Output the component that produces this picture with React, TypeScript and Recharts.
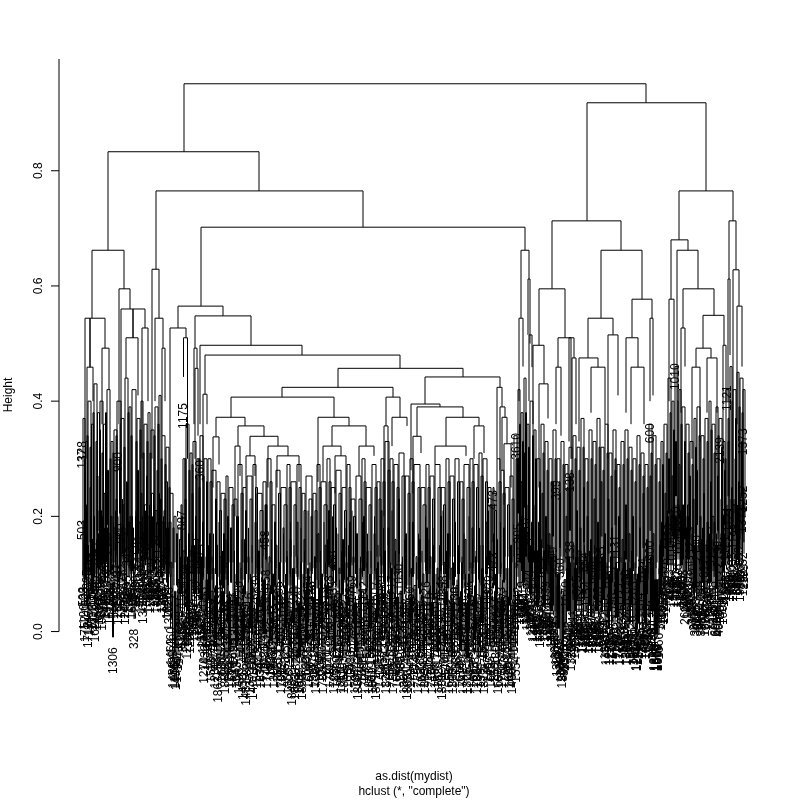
import React from "react";
import { ComposedChart, Line, Scatter, XAxis, YAxis } from "recharts";

// upper tree: [left x, right x, merge height, left child height, right child height]
const upperMerges: number[][] = [
  [184,646,.951,.833,.918],[108,259,.833,.662,.765],[587,706,.918,.713,.765],[679,733,.765,.68,.713],[92,124,.662,.544,.595],
  [156,363,.765,.629,.702],[152,159,.629,.30,.544],[201,525,.702,.565,.662],[178,223,.565,.527,.548],
  [170,186,.527,.24,.51],[183.5,187.5,.51,.442,.30],[195,251,.548,.492,.497],[194,197,.492,.36,.457],
  [195,198,.457,.30,.34],[200,302,.497,.36,.48],[205,400,.48,.412,.457],[203,207,.412,.26,.36],
  [338,463,.457,.424,.442],[282,393,.424,.407,.407],[231,334,.407,.372,.372],[216,245,.372,.338,.357],
  [213,219,.338,.25,.29],[238,264,.357,.322,.339],[235,240,.322,.20,.27],[250,278,.339,.305,.322],
  [246,255,.305,.25,.27],[268,288,.322,.25,.305],[277,299,.305,.25,.26],[318,349,.372,.26,.357],
  [332,366,.357,.322,.322],[323,341,.322,.26,.305],[335,346,.305,.24,.25],[359,374,.322,.27,.305],
  [386,400,.407,.357,.372],[384,388,.357,.2,.15],[392,407,.372,.322,.357],[425,500,.442,.395,.424],
  [411,440,.395,.28,.39],[417,463,.39,.339,.372],[413,421,.339,.24,.31],[446,479,.372,.322,.357],
  [435,466,.322,.29,.305],[474,484,.357,.30,.31],[497,502,.424,.30,.39],[500,505,.39,.28,.372],
  [502,507,.372,.28,.326],[504,511,.326,.22,.25],[521,529,.662,.544,.612],[519,523,.544,.40,.46],
  [528,530,.612,.515,.50],[529,532,.515,.40,.459],[552,621,.713,.595,.662],[539,565,.595,.497,.510],
  [533,544,.497,.36,.43],[539,548,.43,.25,.37],[558,574,.51,.459,.475],[556,561,.459,.36,.34],
  [572,576,.475,.3,.36],[569,571,.51,.33,.3],[601,642,.662,.544,.577],[588,613,.544,.475,.515],
  [579,598,.475,.33,.459],[591,605,.459,.38,.36],[608,618,.515,.30,.41],[632,652,.577,.51,.544],
  [626,638,.51,.38,.459],[631,644,.459,.36,.36],[650,653,.544,.40,.41],[671,688,.68,.577,.662],
  [669,674,.577,.40,.44],[677,698,.662,.40,.595],[683,714,.595,.527,.549],[681,685,.527,.38,.46],
  [703,724,.549,.492,.497],[696,711,.492,.459,.475],[692,700,.459,.30,.33],[707,717,.475,.38,.38],
  [723,726,.497,.30,.40],[729,736,.713,.612,.628],[728,730,.612,.40,.48],[733,739,.628,.40,.565],
  [737,742,.565,.36,.46],[90,105,.544,.459,.492],[85,90,.544,.33,.459],[87,93,.459,.30,.40],
  [102,109,.492,.36,.42],[119,130,.595,.36,.56],[121,133,.56,.36,.51],[133,145,.56,.51,.527],
  [126,138,.51,.44,.41],[142,148,.527,.3,.40],[155,163,.544,.40,.492],[162,165,.492,.34,.40],
];

// middle brackets: [x, span, merge height, height the stems reach]
const middleBrackets: number[][] = [
  [83,2,.37,.1],[85.5,2,.33,.12],[88,3,.40,.12],[91.5,2,.36,.13],[94,3,.43,.14],[97.5,2,.38,.11],[100,3,.40,.14],[103.5,3,.36,.12],
  [107,3,.42,.15],[111,2,.33,.1],[114,3,.35,.14],[117,4,.40,.13],[121,3,.37,.12],[125,3,.44,.14],[129,2,.39,.11],[132,4,.42,.15],
  [137,3,.37,.13],[141,2,.40,.14],[144,3,.36,.12],[148,2,.38,.14],[151,3,.35,.12],[155,3,.39,.15],[159,2,.41,.13],[162,3,.34,.12],
  [166,3,.32,.13],[170,3,.24,.11],[174,2,.2,.12],[178,3,.18,.1],[183,2,.3,.1],[186,3,.36,.12],[190,2,.31,.13],[193,3,.33,.11],
  [197,2,.3,.12],[200,3,.34,.1],[204,3,.3,.11],[208,3,.3,.12],[212,4,.28,.1],[217,3,.26,.13],[221,4,.24,.1],[226,2,.27,.11],
  [229,4,.25,.12],[234,3,.23,.1],[238,4,.29,.11],[243,3,.25,.12],[247,5,.27,.12],[253,3,.29,.1],[257,5,.24,.11],[263,3,.26,.13],
  [267,4,.30,.12],[272,3,.22,.1],[276,4,.28,.11],[281,5,.25,.12],[287,3,.29,.1],[291,5,.26,.13],[297,4,.29,.11],[302,3,.24,.12],
  [306,6,.27,.1],[313,3,.24,.11],[317,3,.29,.12],[321,5,.26,.1],[327,3,.3,.12],[331,4,.25,.11],[336,5,.28,.1],[342,4,.25,.13],
  [347,3,.29,.11],[351,4,.23,.12],[356,5,.27,.1],[362,3,.3,.12],[366,5,.25,.11],[372,4,.29,.1],[377,3,.26,.13],[381,3,.3,.1],
  [385,4,.33,.12],[390,3,.3,.11],[394,4,.29,.1],[399,5,.31,.12],[405,4,.27,.11],[410,3,.3,.1],[414,6,.29,.13],[421,4,.25,.12],
  [426,3,.29,.1],[430,4,.27,.11],[435,5,.29,.12],[441,4,.25,.1],[446,3,.3,.11],[450,4,.27,.13],[455,4,.3,.1],[460,3,.26,.12],
  [464,5,.29,.1],[470,3,.3,.11],[474,4,.29,.12],[479,3,.31,.11],[483,4,.3,.1],[488,3,.25,.12],[492,4,.24,.11],[497,3,.3,.12],
  [501,3,.28,.11],[505,4,.25,.13],[510,3,.27,.12],[514,3,.34,.13],[518,2,.42,.16],[521,2,.38,.15],[524,2,.44,.17],[527,2,.36,.15],
  [530,3,.4,.15],[534,2,.35,.14],[537,3,.3,.13],[541,3,.36,.14],[545,3,.33,.12],[549,3,.3,.13],[553,3,.35,.12],[557,3,.3,.11],
  [561,3,.33,.13],[565,3,.29,.12],[569,3,.32,.1],[573,3,.34,.13],[577,3,.32,.12],[581,3,.37,.11],[585,3,.3,.13],[589,3,.35,.1],
  [593,3,.33,.12],[597,3,.37,.11],[601,3,.32,.13],[605,3,.36,.1],[609,3,.31,.12],[613,3,.35,.11],[617,3,.29,.13],[621,3,.33,.12],
  [625,3,.35,.1],[629,3,.32,.12],[633,3,.3,.11],[637,3,.34,.13],[641,3,.31,.12],[645,3,.29,.1],[649,3,.36,.12],[653,3,.34,.11],
  [657,3,.3,.12],[661,2,.33,.15],[664,3,.36,.17],[668,3,.44,.17],[672,2,.4,.18],[675,3,.46,.18],[679,2,.42,.17],[682,3,.39,.18],
  [686,3,.36,.17],[690,3,.33,.16],[694,2,.37,.17],[697,3,.39,.16],[701,3,.34,.15],[705,3,.37,.16],[709,2,.4,.15],[712,3,.36,.17],
  [716,2,.39,.16],[719,3,.37,.17],[723,2,.33,.16],[726,3,.42,.18],[730,2,.46,.18],[733,3,.42,.19],[737,2,.45,.18],[740,3,.44,.19],[743,2,.42,.2],
];

// second set of brackets between the middle ones: [x, span, merge height, height the stems reach]
const innerBrackets: number[][] = [
  [84.5,1,.3,.09],[87,1,.34,.1],[90,1,.32,.1],[93,1,.38,.11],[96,1,.33,.1],[99.5,1,.35,.11],[102,1,.31,.1],[105.5,1,.38,.12],
  [110,1,.3,.1],[113,1,.31,.12],[116,1,.34,.1],[120,1,.36,.1],[124,1,.32,.11],[128,1,.38,.12],[131,1,.34,.1],[136,1,.33,.12],
  [140,1,.35,.1],[143,1,.31,.11],[147,1,.33,.1],[150,1,.31,.1],[154,1,.34,.12],[158,1,.36,.1],[161,1,.3,.11],[165,1,.29,.1],
  [169,1,.25,.1],[173,1,.18,.08],[176.5,1,.17,.08],[181,1,.22,.08],[185,1,.3,.1],[189,1,.28,.1],[192,1,.29,.1],[196,1,.27,.1],
  [199,1,.3,.1],[203,1,.27,.09],[206.5,1,.26,.1],[210,2,.26,.09],[215.5,1,.23,.1],[219.5,2,.21,.08],[224,2,.23,.09],[227.5,1,.2,.08],
  [232,2,.22,.1],[236.5,1,.2,.08],[241,2,.24,.09],[245.5,1,.21,.1],[250,2,.23,.09],[255.5,2,.25,.08],[260,3,.21,.1],[265,2,.22,.09],
  [270,2,.26,.1],[274.5,1,.19,.08],[278.5,2,.24,.09],[284,3,.22,.1],[289,2,.25,.08],[294,2,.22,.1],[299,2,.25,.09],[304,2,.21,.08],
  [309,3,.23,.1],[315,2,.21,.09],[319,2,.25,.08],[324,3,.22,.1],[329,2,.26,.09],[333.5,2,.22,.08],[339,2,.24,.1],[344.5,2,.21,.09],
  [349,2,.25,.08],[353.5,2,.2,.1],[359,3,.23,.09],[364,2,.26,.08],[369,2,.22,.1],[375,2,.25,.09],[379,2,.23,.08],[383,2,.26,.1],
  [388,2,.28,.09],[392,2,.26,.08],[397,2,.25,.1],[402,3,.27,.09],[408,2,.24,.08],[412,2,.26,.1],[418,2,.25,.09],[423,3,.22,.08],
  [428,2,.25,.1],[432.5,2,.23,.09],[438,3,.25,.08],[443.5,2,.22,.1],[448,2,.26,.09],[452.5,2,.23,.08],[457.5,2,.26,.1],[462,2,.23,.09],
  [467,3,.25,.08],[472,2,.26,.1],[476.5,2,.25,.09],[481,2,.27,.08],[485.5,2,.26,.1],[490,2,.22,.09],[494.5,2,.21,.08],[499,2,.26,.1],
  [503,2,.24,.09],[507.5,2,.22,.08],[512,2,.23,.1],[516,1,.3,.11],[519.5,1,.36,.12],[522.5,1,.33,.12],[525.5,1,.38,.13],[528.5,1,.32,.12],
  [532.5,1,.34,.12],[535.5,1,.3,.11],[539.5,1,.26,.1],[543,1,.31,.11],[547,1,.28,.1],[551,1,.26,.1],[555,1,.3,.1],[559,1,.26,.09],
  [563,1,.29,.1],[567,1,.25,.1],[571,1,.28,.09],[575,1,.3,.1],[579,1,.28,.1],[583,1,.32,.09],[587,1,.26,.1],[591,1,.3,.09],
  [595,1,.29,.1],[599,1,.32,.09],[603,1,.28,.1],[607,1,.31,.09],[611,1,.27,.1],[615,1,.3,.09],[619,1,.25,.1],[623,1,.29,.1],
  [627,1,.3,.09],[631,1,.28,.1],[635,1,.26,.09],[639,1,.29,.1],[643,1,.27,.1],[647,1,.25,.09],[651,1,.31,.1],[655,1,.29,.09],
  [659,1,.26,.1],[662.5,1,.29,.13],[666,1,.31,.15],[670,1,.38,.15],[673.5,1,.35,.16],[677,1,.4,.16],[681,1,.36,.15],[684.5,1,.33,.16],
  [688,1,.31,.15],[692,1,.29,.14],[695.5,1,.32,.15],[699,1,.34,.14],[703,1,.3,.13],[707,1,.33,.14],[711,1,.35,.13],[714,1,.31,.15],
  [718,1,.34,.14],[721.5,1,.32,.15],[725,1,.3,.14],[728,1,.37,.16],[732,1,.4,.16],[735.5,1,.37,.17],[739,1,.39,.16],[742,1,.38,.17],
];

// leaf brackets: [x, span, merge height, left label, right label]
const leafBrackets: (number | string)[][] = [
  [83,1,.19,"503","128"],[84.5,2,.14,"1752"],[86.5,1,.22,"295"],[88,2,.13,"1712"],[90,1,.25,"1148","633"],[91.5,2,.16,"1192"],[93.5,1,.2,"884"],[95,2,.14,"1621"],
  [97,1,.27,"1051"],[98.5,2,.17,"1018","743"],[100.5,1,.21,"2096"],[102,2,.16,"1057"],[104,1,.24,"1334","96"],[105.5,2,.18,"1418"],[107.5,1,.28,"277"],[109,2,.17,"1519"],
  [111,1,.2,"641"],[112.5,1,.085,"1306"],[114,2,.18,"1422"],[116,1,.23,"1101","87"],[117.5,2,.17,"1283"],[119.5,1,.3,"900"],[121,2,.18,"1365"],[123,1,.22,"1476"],
  [124.5,2,.17,"1244"],[126.5,1,.26,"345"],[128,2,.19,"1039"],[130,1,.2,"812"],[131.5,2,.18,"1603","62"],[134,1,.117,"328"],[135.5,2,.2,"1270"],[137.5,1,.28,"1591"],
  [139,2,.19,"914"],[141,1,.24,"1184"],[143,1,.172,"1369"],[144.5,2,.22,"436"],[146.5,1,.27,"1732"],[148,2,.2,"578"],[150,1,.19,"1288"],[151.5,2,.24,"1009"],
  [153.5,1,.2,"1543","218"],[155,2,.21,"1636"],[157,1,.28,"1129"],[158.5,2,.19,"702"],[160.5,1,.23,"1441"],[162,2,.19,"1358"],[164,1,.21,"1077"],[165.5,2,.26,"345"],
  [167.5,1,.18,"1696"],[169,2,.19,"1213"],[171,1,.12,"1460"],[172.5,2,.06,"1488"],[174.5,1,.07,"1463"],[176,2,.057,"1494"],[178,1,.09,"1471"],[179.5,2,.16,"887"],
  [181.5,1,.2,"1527"],[183,2,.14,"1260"],[185,1,.23,"1044"],[186.5,2,.11,"1261"],[188.5,1,.17,"672"],[190,2,.14,"1599"],[192,1,.24,"1311"],[193.5,2,.16,"596"],
  [195.5,1,.2,"1338"],[197,2,.16,"563"],[199,1,.25,"360"],[200.5,2,.15,"1420"],[202.5,1,.19,"1083"],[204,2,.068,"1270"],[206,1,.13,"1605"],[207.5,2,.09,"1172"],
  [209.5,1,.17,"874"],[211,2,.07,"1526"],[213,1,.11,"1741"],[214.5,2,.06,"1234"],[216.5,1,.15,"1339"],[218,2,.035,"1863"],[220,1,.13,"1457"],[221.5,2,.07,"1680"],
  [223.5,1,.17,"1102"],[225,2,.05,"1880"],[227,1,.12,"1397"],[228.5,2,.06,"1764"],[230.5,1,.18,"1641"],[232,2,.06,"1510"],[234,1,.1,"1490"],[235.5,2,.07,"1477"],
  [237.5,1,.14,"1222"],[239,2,.05,"1403"],[241,1,.11,"1482"],[242.5,2,.04,"1458"],[244.5,1,.16,"1205"],[246,2,.03,"1481"],[248,1,.13,"1716"],[249.5,2,.05,"1373"],
  [251.5,1,.09,"1660"],[253,2,.04,"1407"],[255,1,.19,"1258"],[256.5,2,.06,"1592"],[258.5,1,.14,"926"],[260,2,.07,"1344"],[262,1,.17,"1195"],[263.5,2,.09,"1621"],
  [265.5,1,.22,"458"],[267,2,.06,"1749"],[269,1,.13,"1113"],[270.5,2,.08,"1538"],[272.5,1,.1,"1647"],[274,2,.06,"1306"],[276,1,.15,"1272"],[277.5,2,.07,"1561"],
  [279.5,1,.12,"1433"],[281,2,.05,"1709"],[283,1,.18,"1026"],[284.5,2,.08,"1632"],[286.5,1,.13,"1390"],[288,2,.05,"1855"],[290,1,.16,"947"],[291.5,2,.03,"1848"],
  [293.5,1,.11,"1579"],[295,2,.04,"1863"],[297,1,.19,"1220"],[298.5,2,.05,"1888"],[300.5,1,.12,"1468"],[302,2,.04,"1853"],[304,1,.16,"1376"],[305.5,2,.07,"1693"],
  [307.5,1,.11,"1524"],[309,2,.06,"1606"],[311,1,.2,"1135"],[312.5,2,.08,"1470"],[314.5,1,.13,"1687"],[316,2,.05,"1738"],[318,1,.17,"1349"],[319.5,2,.07,"1625"],
  [321.5,1,.1,"1560"],[323,2,.05,"1787"],[325,1,.15,"1247"],[326.5,2,.08,"1671"],[328.5,1,.21,"468"],[330,2,.06,"1731"],[332,1,.13,"1409"],[333.5,2,.05,"1722"],
  [335.5,1,.18,"1298"],[337,2,.07,"1589"],[339,1,.11,"1461"],[340.5,2,.05,"1811"],[342.5,1,.16,"1162"],[344,2,.05,"1852"],[346,1,.12,"1503"],[347.5,2,.06,"1639"],
  [349.5,1,.19,"1058"],[351,2,.08,"1483"],[353,1,.13,"1725"],[354.5,2,.05,"1797"],[356.5,1,.17,"1236"],[358,2,.04,"1889"],[360,1,.11,"1553"],[361.5,2,.07,"1668"],
  [363.5,1,.2,"1142"],[365,2,.05,"1703"],[367,1,.14,"1418"],[368.5,2,.05,"1843"],[370.5,1,.1,"1597"],[372,2,.06,"1619"],[374,1,.17,"1328"],[375.5,2,.04,"1871"],
  [377.5,1,.12,"1504"],[379,2,.06,"1779"],[381,1,.21,"1089"],[382.5,2,.08,"1452"],[384.5,1,.14,"1364"],[386,2,.05,"1820"],[388,1,.18,"1277"],[389.5,2,.07,"1541"],
  [391.5,1,.11,"1611"],[393,2,.05,"1759"],[395,1,.16,"1353"],[396.5,2,.06,"1648"],[398.5,1,.23,"1030"],[400,2,.07,"1585"],[402,1,.12,"1472"],[403.5,2,.05,"1807"],
  [405.5,1,.17,"1218"],[407,2,.04,"1860"],[409,1,.11,"1529"],[410.5,2,.06,"1704"],[412.5,1,.19,"1121"],[414,2,.08,"1439"],[416,1,.13,"1656"],[417.5,2,.05,"1775"],
  [419.5,1,.16,"1290"],[421,2,.06,"1623"],[423,1,.1,"1544"],[424.5,2,.05,"1833"],[426.5,1,.18,"1176"],[428,2,.07,"1508"],[430,1,.13,"1381"],[431.5,2,.05,"1716"],
  [433.5,1,.15,"1264"],[435,2,.06,"1609"],[437,1,.11,"1492"],[438.5,2,.05,"1768"],[440.5,1,.2,"1054"],[442,2,.04,"1881"],[444,1,.12,"1437"],[445.5,2,.07,"1574"],
  [447.5,1,.17,"1312"],[449,2,.05,"1659"],[451,1,.11,"1515"],[452.5,2,.05,"1802"],[454.5,1,.19,"1209"],[456,2,.08,"1389"],[458,1,.14,"1683"],[459.5,2,.06,"1618"],
  [461.5,1,.12,"1548"],[463,2,.05,"1742"],[465,1,.16,"1249"],[466.5,2,.05,"1826"],[468.5,1,.1,"1600"],[470,2,.07,"1454"],[472,1,.18,"1167"],[473.5,2,.06,"1695"],
  [475.5,1,.13,"1429"],[477,2,.05,"1785"],[479,1,.15,"1303"],[480.5,2,.06,"1581"],[482.5,1,.11,"1532"],[484,2,.05,"1813"],[486,1,.19,"1110"],[487.5,2,.07,"1467"],
  [489.5,1,.14,"1377"],[491,2,.06,"1622"],[493,1,.25,"473"],[494.5,2,.07,"1506"],[496.5,1,.16,"1282"],[498,2,.05,"1699"],[500,1,.12,"1445"],[501.5,2,.06,"1752"],
  [503.5,1,.18,"1197"],[505,2,.07,"1563"],[507,1,.11,"1417"],[508.5,2,.06,"1690"],[510.5,1,.15,"1340"],[512,2,.05,"1460"],[514,1,.12,"1486"],[515.5,2,.07,"1554"],
  [517.5,1,.3,"805"],[519,2,.17,"1232"],[521,1,.26,"207"],[522.5,2,.18,"527"],[524.5,1,.31,"3610"],[526,2,.17,"1150"],[528,1,.22,"944"],[529.5,2,.16,"1325"],
  [531.5,1,.19,"1380"],[533,2,.14,"1309"],[535,1,.22,"1447"],[536.5,2,.14,"1388"],[538.5,1,.19,"1015"],[540,2,.13,"1565"],[542,1,.24,"823"],[543.5,2,.14,"1398"],
  [545.5,1,.2,"1099"],[547,2,.15,"1307"],[549,1,.17,"1446"],[550.5,2,.13,"1306"],[552.5,1,.26,"399"],[554,2,.13,"1394"],[556,1,.1,"1305"],[557.5,2,.1,"1098"],
  [559.5,1,.24,"360"],[561,2,.07,"1305"],[562.5,1,.06,"899"],[564,2,.09,"1350"],[566,1,.2,"1070"],[567.5,2,.13,"1412"],[569.5,1,.27,"138"],[571,2,.09,"1325"],
  [573,1,.15,"1241"],[574.5,2,.11,"1327"],[576.5,1,.21,"925"],[578,2,.14,"1399"],[580,1,.18,"1106"],[581.5,2,.12,"1364"],[583.5,1,.25,"684"],[585,2,.13,"1530"],
  [587,1,.2,"1154"],[588.5,2,.12,"1896"],[590.5,1,.16,"1280"],[592,2,.12,"1899"],[594,1,.23,"904"],[595.5,2,.13,"1437"],[597.5,1,.19,"1093"],[599,2,.12,"1893"],
  [601,1,.26,"1285"],[602.5,2,.13,"1352"],[604.5,1,.17,"1200"],[606,2,.1,"1466"],[608,1,.23,"1031"],[609.5,2,.1,"1272"],[611.5,1,.18,"1398"],[613,2,.11,"1729"],
  [615,1,.28,"1131"],[616.5,2,.12,"1547"],[618.5,1,.2,"1177"],[620,2,.1,"1729"],[622,1,.16,"1335"],[623.5,2,.12,"1618"],[625.5,1,.22,"1086"],[627,2,.1,"1361"],
  [629,1,.17,"1269"],[630.5,2,.11,"1594"],[632.5,1,.2,"1203"],[634,2,.1,"1518"],[636,1,.09,"1249"],[637.5,2,.1,"1249"],[639.5,1,.18,"1104"],[641,2,.12,"1655"],
  [643,1,.24,"1034"],[644.5,2,.11,"1427"],[646.5,1,.16,"1226"],[648,2,.12,"1533"],[650,1,.27,"600"],[651.5,2,.13,"1381"],[653,1,.17,"1291"],[654.5,2,.09,"1888"],
  [656.5,1,.09,"1666"],[658,1,.09,"1868"],[659.5,2,.15,"346"],[661.5,1,.19,"1153"],[663,2,.17,"1495"],[665,1,.24,"1076"],[666.5,2,.2,"973"],[668.5,1,.3,"1428"],
  [670,2,.21,"1122"],[672,1,.27,"1010"],[673.5,2,.2,"1310"],[675.5,1,.33,"1010"],[677,2,.22,"1247"],[679,1,.29,"1040"],[680.5,2,.21,"899"],[682.5,1,.22,"608"],
  [684,2,.2,"2607"],[686,1,.18,"260"],[687.5,2,.22,"1308"],[689.5,1,.27,"1112"],[691,2,.18,"309"],[693,1,.23,"3010"],[694.5,2,.15,"3018"],[696.5,1,.28,"2130"],
  [698,2,.15,"302"],[700,1,.2,"1088"],[701.5,2,.16,"3024"],[703.5,1,.24,"1017"],[705,2,.15,"1003"],[707,1,.19,"1219"],[708.5,2,.18,"8"],[710.5,1,.26,"919"],
  [712,2,.2,"808"],[714,1,.19,"1145"],[715.5,2,.15,"6040"],[717.5,1,.27,"2139"],[719,2,.15,"4040"],[721,1,.23,"1133"],[722.5,2,.17,"1008"],[724.5,1,.28,"1121"],
  [726,2,.21,"1160"],[728,1,.33,"1121"],[729.5,2,.21,"1960"],[731.5,1,.25,"1035"],[733,2,.22,"1990"],[735,1,.3,"1198"],[736.5,2,.21,"800"],[738.5,1,.26,"899"],
  [740,2,.24,"800"],[741.5,1,.33,"1373"],[743,1,.25,"1252"],
];

// second row of single leaves: [x, merge height, label]
const lowerLeaves: (number | string)[][] = [
  [84,.16,"1126"],[86,.18,"1052"],[88.5,.15,"1347"],[90.5,.2,"1194"],[92.5,.16,"1015"],[94.5,.19,"1271"],[96.5,.16,"1453"],[98,.21,"1362"],[100,.18,"1067"],[102.5,.2,"1229"],
  [104.5,.18,"1496"],[106.5,.22,"1103"],[108.5,.19,"1378"],[110.5,.2,"1562"],[113.5,.19,"1428"],[115.5,.21,"1144"],[118,.2,"1307"],[120.5,.19,"1583"],[122.5,.23,"1212"],[125,.18,"1476"],
  [127,.21,"1095"],[129,.19,"1334"],[132.5,.2,"1256"],[136,.21,"1539"],[138.5,.23,"1168"],[140.5,.19,"1402"],[142.5,.2,"1289"],[145.5,.21,"1613"],[147.5,.19,"1086"],[149.5,.22,"1345"],
  [152.5,.2,"1527"],[154.5,.22,"1179"],[156.5,.19,"1448"],[159.5,.24,"1063"],[161.5,.19,"1311"],[163.5,.2,"1592"],[166.5,.18,"1228"],[168.5,.16,"1374"],[170.5,.1,"1463"],[173,.08,"1488"],
  [175,.06,"1475"],[177,.07,"1499"],[179,.1,"1430"],[180.5,.13,"1262"],[182.5,.12,"1540"],[184.5,.13,"1160"],[186,.15,"1267"],[187.5,.13,"1509"],[189.5,.12,"1268"],[191.5,.15,"1341"],
  [193,.17,"1084"],[194.5,.15,"1619"],[196.5,.14,"1273"],[198.5,.16,"1397"],[200,.14,"1125"],[201.5,.13,"1556"],[203,.12,"1210"],[205,.09,"1432"],[206.5,.12,"1601"],[208.5,.15,"1145"],
  [210.5,.09,"1379"],[212,.13,"1623"],[213.5,.17,"1258"],[215.5,.08,"1487"],[217.5,.12,"1790"],[219,.19,"1335"],[220.5,.09,"1612"],[222.5,.14,"1702"],[224.5,.08,"1285"],[226,.16,"1576"],
  [228,.11,"1414"],[229.5,.07,"1808"],[231.5,.18,"1163"],[233,.1,"1699"],[234.5,.14,"1352"],[236.5,.06,"1543"],[238.5,.2,"1220"],[240,.12,"1761"],[242,.16,"1408"],[243.5,.08,"1647"],
  [245,.13,"1292"],[247,.07,"1835"],[248.5,.18,"1516"],[250.5,.1,"1728"],[252,.15,"1186"],[254,.08,"1604"],[255.5,.21,"1339"],[257.5,.11,"1840"],[259,.16,"1255"],[261,.06,"1672"],
  [262.5,.13,"1427"],[264.5,.09,"1785"],[266,.19,"1304"],[268,.12,"1621"],[269.5,.07,"1147"],[271.5,.16,"1743"],[273,.1,"1512"],[275,.14,"1866"],[276.5,.08,"1233"],[278.5,.2,"1595"],
  [280,.12,"1388"],[282,.06,"1812"],[283.5,.17,"1176"],[285.5,.1,"1658"],[287,.14,"1441"],[289,.07,"1879"],[290.5,.19,"1266"],[292.5,.11,"1730"],[294,.15,"1503"],[296,.08,"1824"],
  [297.5,.13,"1199"],[299.5,.05,"1687"],[301,.18,"1372"],[303,.1,"1796"],[304.5,.14,"1245"],[306.5,.08,"1609"],[308,.21,"1454"],[310,.12,"1751"],[311.5,.16,"1118"],[313.5,.06,"1838"],
  [315,.11,"1326"],[317,.17,"1664"],[318.5,.09,"1497"],[320.5,.14,"1773"],[322,.07,"1208"],[324,.19,"1815"],[325.5,.12,"1383"],[327.5,.16,"1626"],[329,.08,"1149"],[331,.13,"1712"],
  [332.5,.2,"1435"],[334.5,.06,"1856"],[336,.11,"1271"],[338,.17,"1598"],[339.5,.09,"1469"],[341.5,.14,"1734"],[343,.07,"1193"],[345,.18,"1827"],[346.5,.12,"1346"],[348.5,.15,"1653"],
  [350,.08,"1516"],[352,.21,"1769"],[353.5,.11,"1224"],[355.5,.06,"1844"],[357,.16,"1392"],[359,.09,"1617"],[360.5,.13,"1158"],[362.5,.19,"1721"],[364,.07,"1480"],[366,.12,"1799"],
  [367.5,.17,"1239"],[369.5,.1,"1862"],[371,.14,"1365"],[373,.05,"1640"],[374.5,.2,"1507"],[376.5,.11,"1756"],[378,.15,"1182"],[380,.08,"1819"],[381.5,.13,"1428"],[383.5,.18,"1676"],
  [385,.09,"1293"],[387,.06,"1741"],[388.5,.16,"1534"],[390.5,.12,"1805"],[392,.21,"1217"],[394,.08,"1868"],[395.5,.14,"1359"],[397.5,.1,"1603"],[399,.18,"1475"],[401,.07,"1788"],
  [402.5,.13,"1136"],[404.5,.16,"1694"],[406,.09,"1422"],[408,.05,"1831"],[409.5,.19,"1260"],[411.5,.11,"1628"],[413,.15,"1513"],[415,.07,"1774"],[416.5,.12,"1201"],[418.5,.17,"1847"],
  [420,.09,"1385"],[422,.14,"1651"],[423.5,.06,"1494"],[425.5,.2,"1726"],[427,.11,"1173"],[429,.16,"1810"],[430.5,.08,"1447"],[432.5,.13,"1669"],[434,.18,"1318"],[436,.1,"1792"],
  [437.5,.06,"1526"],[439.5,.15,"1740"],[441,.12,"1256"],[443,.21,"1858"],[444.5,.08,"1401"],[446.5,.14,"1615"],[448,.1,"1188"],[450,.17,"1763"],[451.5,.06,"1489"],[453.5,.12,"1823"],
  [455,.19,"1230"],[457,.09,"1682"],[458.5,.15,"1375"],[460.5,.07,"1749"],[462,.13,"1537"],[464,.17,"1816"],[465.5,.1,"1154"],[467.5,.05,"1707"],[469,.2,"1436"],[471,.12,"1635"],
  [472.5,.16,"1279"],[474.5,.08,"1783"],[476,.14,"1502"],[478,.06,"1869"],[479.5,.18,"1247"],[481.5,.11,"1623"],[483,.15,"1390"],[485,.09,"1758"],[486.5,.13,"1161"],[488.5,.21,"1829"],
  [490,.07,"1455"],[492,.12,"1690"],[493.5,.17,"1322"],[495.5,.1,"1801"],[497,.14,"1518"],[499,.06,"1677"],[500.5,.19,"1203"],[502.5,.09,"1770"],[504,.16,"1424"],[506,.11,"1566"],
  [507.5,.08,"1287"],[509.5,.14,"1495"],[511,.06,"1468"],[513,.1,"1460"],[514.5,.16,"1573"],[516.5,.17,"1306"],[518,.19,"1142"],[520,.17,"1523"],[521.5,.2,"1219"],[523.5,.17,"1396"],
  [525,.18,"1064"],[527,.16,"1338"],[529,.17,"1597"],[530.5,.15,"1226"],[532,.16,"1374"],[534.5,.14,"1415"],[535.5,.17,"1137"],[537.5,.14,"1382"],[539.5,.15,"1520"],[541.5,.16,"1205"],
  [544.5,.14,"1467"],[546,.17,"1108"],[548,.14,"1329"],[550,.15,"1581"],[551.5,.13,"1416"],[553.5,.14,"1253"],[555,.11,"1399"],[557,.08,"1308"],[558.5,.1,"1072"],[560,.08,"1344"],
  [562,.06,"1309"],[563.5,.07,"899"],[565,.09,"1325"],[566.5,.11,"1180"],[568.5,.13,"1406"],[570.5,.12,"1234"],[572,.1,"1328"],[574,.12,"1091"],[575.5,.13,"1355"],[577.5,.15,"1216"],
  [579,.13,"1388"],[581,.14,"1542"],[583,.12,"1169"],[584.5,.15,"1430"],[586,.13,"1278"],[588,.12,"1892"],[589.5,.14,"1047"],[591.5,.12,"1897"],[593,.13,"1323"],[594.5,.15,"1501"],
  [596.5,.13,"1186"],[598.5,.12,"1894"],[600,.14,"1259"],[601.5,.13,"1414"],[603.5,.15,"1072"],[605,.11,"1381"],[607,.12,"1545"],[608.5,.1,"1236"],[610.5,.13,"1467"],[612,.11,"1720"],
  [614,.14,"1155"],[615.5,.12,"1399"],[617.5,.11,"1721"],[619,.1,"1726"],[621,.13,"1282"],[622.5,.11,"1510"],[624.5,.14,"1193"],[626,.1,"1364"],[628,.12,"1437"],[629.5,.11,"1248"],
  [631.5,.14,"1526"],[633,.1,"1317"],[635,.12,"1249"],[636.5,.09,"1240"],[638.5,.11,"1172"],[640,.13,"1453"],[642,.11,"1298"],[643.5,.13,"1614"],[645.5,.11,"1086"],[647,.14,"1372"],
  [649,.12,"1531"],[650.5,.13,"1207"],[652.5,.12,"1488"],[654,.09,"1886"],[655.5,.09,"1666"],[657,.09,"1660"],[659,.11,"1666"],[660.5,.16,"1269"],[662,.18,"1344"],[664,.17,"1125"],
  [666,.19,"1408"],[667.5,.21,"1072"],[669,.22,"1263"],[671,.2,"1492"],[673,.21,"1135"],[675,.22,"1381"],[676.5,.2,"1027"],[678,.23,"1526"],[680,.2,"1298"],[681.5,.21,"1166"],
  [683,.2,"2609"],[685,.17,"2607"],[686.5,.18,"1417"],[688.5,.2,"1081"],[690,.19,"1354"],[692,.17,"3009"],[693.5,.16,"3014"],[695.5,.17,"1218"],[697,.15,"3020"],[699,.16,"1442"],
  [701,.15,"3017"],[702.5,.18,"1109"],[704.5,.15,"1396"],[706,.16,"1267"],[708,.19,"1530"],[709.5,.17,"1148"],[711.5,.18,"1372"],[713,.16,"1025"],[715,.15,"6044"],[716.5,.17,"1481"],
  [718,.15,"4043"],[720,.17,"1239"],[722,.19,"1506"],[723.5,.2,"1164"],[725.5,.21,"1383"],[727,.22,"1047"],[729,.21,"1968"],[731,.23,"1295"],[732.5,.21,"1990"],[734,.23,"1112"],
  [736,.21,"800"],[737.5,.22,"1436"],[739.5,.21,"1902"],[741,.22,"889"],[742.5,.22,"1252"],[744,.23,"1199"],
];

// labels standing clear of the leaf rows: [x, height of the label's top end, text]
const raisedLabels: (number | string)[][] = [
  [82,.331,"128"],[82,.318,"137"],[183,.397,"1175"],[182,.211,"887"],[650,.362,"600"],[675,.466,"1010"],[727,.428,"1121"],
  [720,.338,"2139"],[743,.353,"1373"],[493,.246,"473"],[516,.345,"3610"],[265,.176,"458"],[118,.312,"900"],[82,.194,"503"],
  [200,.298,"360"],[743,.254,"1252"],[333,.141,"468"],[556,.263,"399"],[570,.277,"138"],
];

const heightTicks = [0, 0.2, 0.4, 0.6, 0.8];
const hang = 0.095;
const axisX = 59;
const axisTop = 0.994;

const segmentRows: { x: number; y: number | null }[] = [];
const bracket = (xL: number, xR: number, h: number, hL: number, hR: number) => {
  segmentRows.push({ x: xL, y: hL }, { x: xL, y: h }, { x: xR, y: h }, { x: xR, y: hR }, { x: xR, y: null });
};
upperMerges.forEach(([a, b, h, l, r]) => bracket(a, b, h, l, r));
middleBrackets.forEach(([x, w, h, f]) => bracket(x, x + w, h, f, f));
innerBrackets.forEach(([x, w, h, f]) => bracket(x, x + w, h, f, f));
leafBrackets.forEach(([x, w, h]) =>
  bracket(x as number, (x as number) + (w as number), h as number, (h as number) - hang, (h as number) - hang),
);
lowerLeaves.forEach(([x, h]) => {
  segmentRows.push({ x: x as number, y: h as number }, { x: x as number, y: (h as number) - hang }, { x: x as number, y: null });
});

const labelRows: { x: number; y: number; label: string }[] = [];
leafBrackets.forEach(([x, w, h, a, b]) => {
  labelRows.push({ x: x as number, y: (h as number) - hang, label: a as string });
  if (b) labelRows.push({ x: (x as number) + (w as number), y: (h as number) - hang, label: b as string });
});
lowerLeaves.forEach(([x, h, t]) => labelRows.push({ x: x as number, y: (h as number) - hang, label: t as string }));
raisedLabels.forEach(([x, h, t]) => labelRows.push({ x: x as number, y: (h as number) + 0.017, label: t as string }));

const axisRows = [{ x: axisX, y: 0 }, { x: axisX, y: axisTop }];
const FONT = '"Liberation Sans", Arial, sans-serif';

const LeafLabel = (p: any) => (
  <text
    transform={`rotate(-90 ${p.cx + 4.3} ${p.cy + 10})`}
    x={p.cx + 4.3}
    y={p.cy + 10}
    textAnchor="end"
    fontFamily={FONT}
    fontSize={12}
    fill="#000"
  >
    {p.payload.label}
  </text>
);

const HeightTick = (p: any) => (
  <text
    transform={`rotate(-90 42 ${p.y})`}
    x={42}
    y={p.y}
    textAnchor="middle"
    fontFamily={FONT}
    fontSize={12}
    fill="#000"
  >
    {p.payload.value.toFixed(1)}
  </text>
);

export default function App() {
  return (
    <div style={{ position: "absolute", left: 0, top: 0, width: 800, height: 800, willChange: "transform" }}>
      <ComposedChart
        width={800}
        height={800}
        data={segmentRows}
        margin={{ top: 59, right: 0, bottom: 30.2, left: 0 }}
      >
        <XAxis type="number" dataKey="x" domain={[59, 800]} hide />
        <YAxis
          type="number"
          dataKey="y"
          width={59}
          domain={[-0.24, axisTop]}
          ticks={heightTicks}
          axisLine={false}
          tickLine={{ stroke: "#000", strokeWidth: 1 }}
          tickSize={8}
          tick={HeightTick}
          interval={0}
        />
        <Line
          type="linear"
          dataKey="y"
          stroke="#000"
          strokeWidth={1}
          dot={false}
          activeDot={false}
          connectNulls={false}
          isAnimationActive={false}
        />
        <Line
          type="linear"
          data={axisRows}
          dataKey="y"
          stroke="#000"
          strokeWidth={1}
          dot={false}
          activeDot={false}
          isAnimationActive={false}
        />
        <Scatter data={labelRows} dataKey="y" shape={LeafLabel} isAnimationActive={false} />
        <text transform="rotate(-90 12 395)" x={12} y={395} textAnchor="middle" fontFamily={FONT} fontSize={12} fill="#000">
          Height
        </text>
        <text x={414} y={780} textAnchor="middle" fontFamily={FONT} fontSize={12} fill="#000">
          as.dist(mydist)
        </text>
        <text x={414} y={795} textAnchor="middle" fontFamily={FONT} fontSize={12} fill="#000">
          {'hclust (*, "complete")'}
        </text>
      </ComposedChart>
    </div>
  );
}
